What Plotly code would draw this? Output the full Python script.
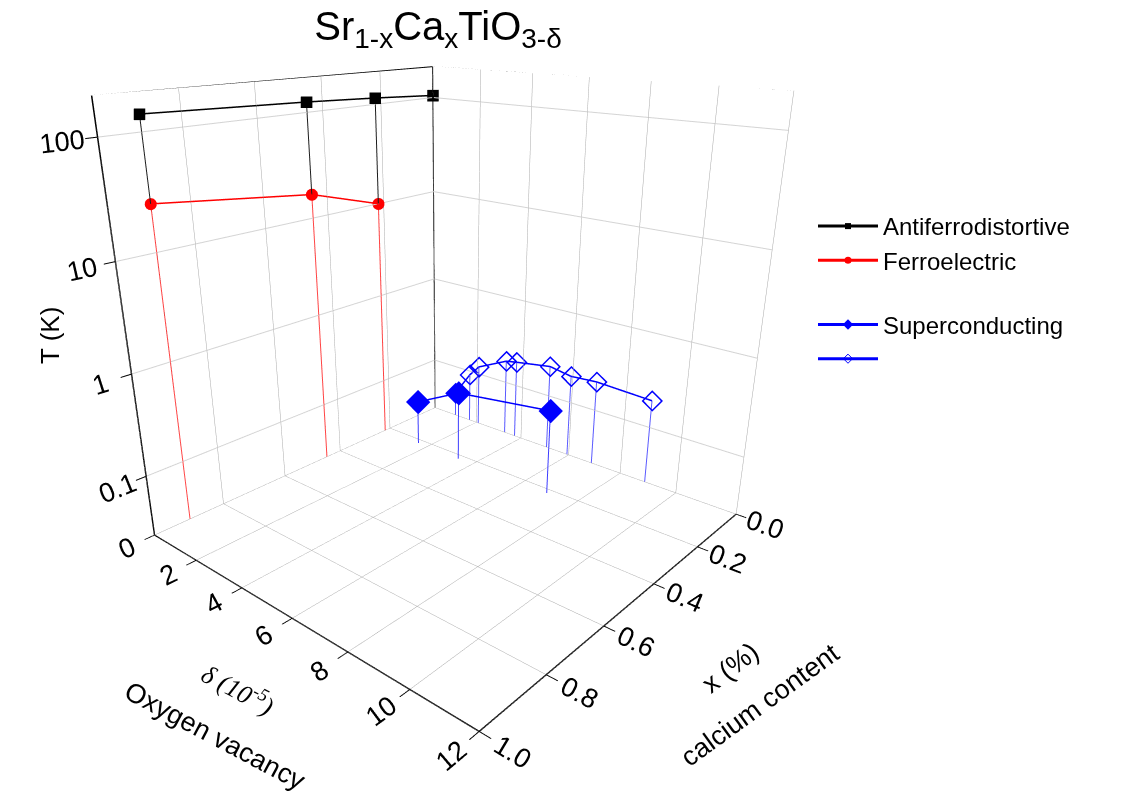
import numpy as np
import plotly.graph_objects as go

# values
# x = calcium content (%), d = oxygen vacancy delta (1e-5), T in K
afd_x = [0.9, 0.45, 0.22, 0.0]
afd_d = [0, 0, 0, 0]
afd_T = [138, 124, 115, 105]

fe_x = [0.9, 0.45, 0.22]
fe_d = [0, 0, 0]
fe_T = [26, 17, 10]

sc_x = [0.22, 0.22, 0.22]
sc_d = [1.6, 3.4, 7.0]
sc_T = [0.077, 0.143, 0.196]

sto_x = [0, 0, 0, 0, 0, 0, 0, 0, 0]
sto_d = [1.0, 1.67, 2.08, 3.28, 3.72, 5.09, 5.93, 6.9, 8.9]
sto_T = [0.046, 0.09, 0.122, 0.18, 0.19, 0.22, 0.2, 0.21, 0.197]

x_ticks = [0.0, 0.2, 0.4, 0.6, 0.8, 1.0]
d_ticks = [0, 2, 4, 6, 8, 10, 12]
T_ticks = [0.1, 1, 10, 100]
x_range = [0, 1.0]
d_range = [0, 12]
T_range = [np.log10(0.024), np.log10(205)]
T_floor = 10 ** T_range[0]
T_top = 10 ** T_range[1]

FONT = "Liberation Sans, Arial, sans-serif"


def drops(xs, ds, ts):
    # vertical drop lines from each point down to the floor
    X, Y, Z = [], [], []
    for x, d, t in zip(xs, ds, ts):
        X += [x, x, None]
        Y += [d, d, None]
        Z += [T_floor, t, None]
    return X, Y, Z


def drop_trace(xs, ds, ts, color):
    X, Y, Z = drops(xs, ds, ts)
    return go.Scatter3d(x=X, y=Y, z=Z, mode='lines', showlegend=False,
                        hoverinfo='skip', line=dict(color=color, width=2))


fig = go.Figure()

# frame of the two back walls (top edges and the back corner)
x0, x1 = x_range
d0, d1 = d_range
fig.add_trace(go.Scatter3d(
    x=[x1, x0, x0, None, x0, x0],
    y=[d0, d0, d1, None, d0, d0],
    z=[T_top, T_top, T_top, None, T_floor, T_top],
    mode='lines', showlegend=False, hoverinfo='skip',
    line=dict(color='black', width=2)))

fig.add_trace(drop_trace(afd_x, afd_d, afd_T, 'rgb(30,30,30)'))
fig.add_trace(drop_trace(fe_x, fe_d, fe_T, 'rgb(255,70,70)'))
fig.add_trace(drop_trace(sto_x, sto_d, sto_T, 'rgb(90,90,255)'))
fig.add_trace(drop_trace(sc_x, sc_d, sc_T, 'rgb(60,60,255)'))

fig.add_trace(go.Scatter3d(
    x=afd_x, y=afd_d, z=afd_T, mode='lines+markers', name='Antiferrodistortive',
    legendgroup='a', line=dict(color='black', width=3),
    marker=dict(symbol='square', size=6, color='black')))
fig.add_trace(go.Scatter3d(
    x=fe_x, y=fe_d, z=fe_T, mode='lines+markers', name='Ferroelectric',
    legendgroup='a', line=dict(color='red', width=3),
    marker=dict(symbol='circle', size=7, color='red')))
fig.add_trace(go.Scatter3d(
    x=sc_x, y=sc_d, z=sc_T, mode='lines+markers', name='Superconducting',
    legendgroup='b', line=dict(color='blue', width=3),
    marker=dict(symbol='diamond', size=8, color='blue')))
fig.add_trace(go.Scatter3d(
    x=sto_x, y=sto_d, z=sto_T, mode='lines+markers', name=' ',
    legendgroup='b', line=dict(color='blue', width=3),
    marker=dict(symbol='diamond-open', size=7, color='blue')))

axis_common = dict(
    showbackground=False, showspikes=False, zeroline=False,
    showline=True, linecolor='black', linewidth=3,
    ticks='outside', tickcolor='black', ticklen=10, tickwidth=2,
    gridcolor='#a8a8a8', gridwidth=1,
    tickfont=dict(family=FONT, size=18, color='black'),
    title=dict(text=''),
)

# camera: azimuth ~41 deg from the x axis, elevation ~19 deg
D = 2.13
az, el = np.radians(41), np.radians(19)
dirv = np.array([np.cos(el) * np.cos(az), np.cos(el) * np.sin(az), np.sin(el)])
eye = D * dirv
# look a bit lower so the box sits higher on the page
down = np.array([np.sin(el) * np.cos(az), np.sin(el) * np.sin(az), -np.cos(el)])
cen = 0.168 * down

fig.update_layout(
    width=1136, height=793,
    paper_bgcolor='white',
    margin=dict(l=0, r=0, t=0, b=0),
    title=dict(text='Sr<sub>1-x</sub>Ca<sub>x</sub>TiO<sub>3-δ</sub>',
               font=dict(family=FONT, size=40, color='black'),
               x=430 / 1136, xanchor='center', y=1 - 4 / 793, yanchor='top'),
    scene=dict(
        domain=dict(x=[0.0, 0.78], y=[0.0, 1.0]),
        xaxis=dict(axis_common, range=x_range, tickvals=x_ticks,
                   ticktext=['%.1f' % v for v in x_ticks]),
        yaxis=dict(axis_common, range=d_range, tickvals=d_ticks),
        zaxis=dict(axis_common, type='log', range=T_range, tickvals=T_ticks,
                   ticktext=['0.1', '1', '10', '100'], gridcolor='#d4d4d4', gridwidth=2),
        aspectmode='manual', aspectratio=dict(x=1, y=1, z=1),
        camera=dict(eye=dict(x=eye[0], y=eye[1], z=eye[2]),
                    center=dict(x=cen[0], y=cen[1], z=cen[2]),
                    up=dict(x=0, y=0, z=1),
                    projection=dict(type='perspective')),
    ),
    legend=dict(x=805 / 1136, y=1 - 196 / 793, xanchor='left', yanchor='top',
                font=dict(family=FONT, size=24, color='black'),
                traceorder='grouped', tracegroupgap=30, itemwidth=60,
                bgcolor='rgba(0,0,0,0)'),
    showlegend=True,
)


def px(x):
    return x / 1136


def py(y):
    return 1 - y / 793


labels = [
    ('T (K)', 42, 328, -90, 26, FONT, 'normal'),
    ('δ (10<sup>-5</sup>)', 230, 680, 28, 26, 'Liberation Serif, Times New Roman, serif', 'italic'),
    ('Oxygen vacancy', 207, 728, 28, 27, FONT, 'normal'),
    ('x (%)', 722, 660, -38, 27, FONT, 'normal'),
    ('calcium content', 752, 697, -36, 27, FONT, 'normal'),
]
for text, lx, ly, ang, size, fam, style in labels:
    fig.add_annotation(text=text, x=px(lx), y=py(ly), xref='paper', yref='paper',
                       xanchor='center', yanchor='middle', showarrow=False,
                       textangle=ang, font=dict(family=fam, size=size, color='black',
                                                style=style))

fig.write_html('out.html')
